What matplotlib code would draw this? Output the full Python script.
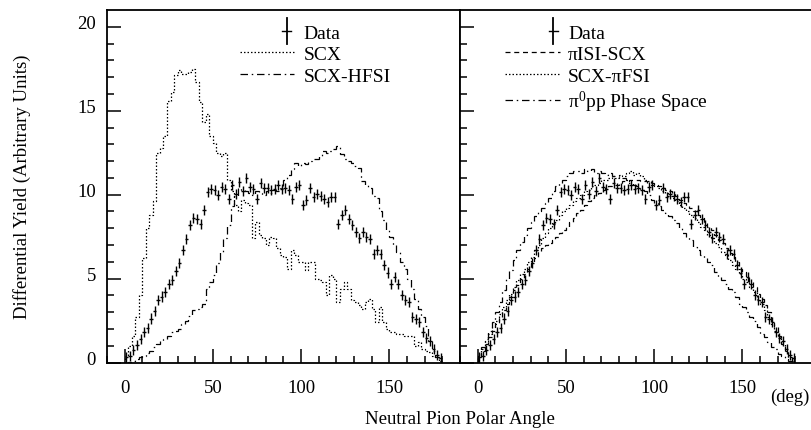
import numpy as np
import matplotlib
matplotlib.use("Agg")
import matplotlib.pyplot as plt
from matplotlib.lines import Line2D
from matplotlib.legend_handler import HandlerBase
from matplotlib.transforms import ScaledTranslation

plt.rcParams['font.family'] = ['Liberation Serif', 'DejaVu Serif']
plt.rcParams['mathtext.fontset'] = 'custom'
plt.rcParams['mathtext.rm'] = 'Liberation Serif'
plt.rcParams['mathtext.it'] = 'Liberation Serif:italic'

# 2 degree bins, 0..180
edges = np.arange(0, 182, 2)
centers = edges[:-1] + 1

# measured yield (same data in both panels)
data = [0.3, 0.4, 0.77, 1.03, 1.41, 1.8, 2.08, 2.62, 3.08, 3.71,
        3.93, 4.2, 4.7, 4.94, 5.46, 5.93, 6.69, 7.38, 8.21, 8.61,
        8.53, 8.27, 9.07, 10.16, 10.36, 10.26, 9.96, 10.46, 10.36, 9.76,
        10.6, 10.06, 10.75, 10.2, 11.0, 10.46, 10.32, 9.76, 10.69, 10.4,
        10.4, 10.26, 10.36, 10.56, 10.36, 10.4, 10.26, 9.76, 10.46, 10.56,
        9.36, 9.66, 10.4, 9.86, 10.06, 9.92, 9.76, 9.56, 9.86, 9.86,
        8.27, 8.77, 9.07, 8.57, 8.17, 7.78, 7.42, 7.78, 7.48, 7.38,
        6.49, 6.69, 6.49, 5.8, 5.36, 4.7, 5.1, 4.7, 4.0, 3.7,
        3.6, 2.72, 2.58, 2.42, 1.83, 1.47, 1.27, 0.83, 0.44, 0.24]
data_err = 0.3

# left panel models
scx = [0.4, 1.0, 1.6, 2.7, 4.0, 6.2, 8.0, 8.8, 9.6, 12.5,
       12.8, 13.5, 15.6, 16.1, 17.1, 17.4, 17.2, 17.2, 17.3, 17.5,
       16.7, 15.5, 14.3, 14.8, 13.5, 13.1, 12.5, 12.3, 12.5, 10.9,
       10.2, 9.4, 9.0, 9.7, 9.5, 9.4, 7.4, 8.4, 7.6, 7.4,
       7.0, 7.5, 7.4, 6.8, 6.4, 6.3, 5.6, 6.7, 6.4, 6.0,
       6.0, 5.5, 6.0, 6.0, 5.0, 4.9, 4.8, 4.0, 5.2, 5.0,
       3.6, 4.4, 4.8, 4.4, 3.7, 3.6, 3.4, 3.2, 3.6, 3.8,
       3.2, 2.4, 3.3, 2.4, 2.0, 1.8, 1.8, 1.7, 1.7, 1.6,
       1.6, 1.6, 1.0, 1.2, 0.8, 0.7, 0.6, 0.4, 0.3, 0.1]
scx_hfsi = [0.0, 0.05, 0.1, 0.2, 0.3, 0.4, 0.55, 0.7, 0.9, 1.1,
            1.3, 1.4, 1.6, 1.8, 1.9, 2.0, 2.3, 2.5, 2.8, 3.1,
            3.2, 3.3, 3.5, 4.4, 4.8, 5.2, 5.9, 6.6, 7.4, 8.2,
            9.3, 9.9, 10.4, 10.3, 10.2, 10.1, 10.0, 10.2, 10.1, 10.0,
            10.2, 10.1, 10.3, 10.2, 10.4, 10.9, 11.2, 11.5, 11.9, 11.7,
            11.9, 11.8, 12.0, 12.1, 12.1, 12.3, 12.6, 12.5, 12.6, 12.7,
            12.9, 12.4, 12.1, 12.0, 11.9, 11.7, 11.6, 10.8, 10.6, 10.4,
            9.9, 9.8, 9.0, 8.5, 7.9, 7.5, 7.0, 6.6, 6.0, 5.6,
            5.0, 4.4, 3.8, 3.2, 2.7, 2.2, 1.3, 0.7, 0.3, 0.1]

# right panel models
pi_isi_scx = [0.3, 0.7, 1.1, 1.5, 1.9, 2.3, 2.7, 3.1, 3.5, 3.9,
              4.3, 4.6, 5.0, 5.3, 5.6, 5.9, 6.2, 6.6, 6.8, 7.0,
              7.1, 7.3, 7.5, 7.7, 7.9, 8.1, 8.4, 8.6, 8.9, 9.1,
              9.4, 9.6, 9.8, 10.0, 10.1, 10.3, 10.4, 10.5, 10.6, 10.6,
              10.7, 10.8, 10.8, 10.9, 10.9, 10.9, 10.8, 10.8, 10.7, 10.7,
              10.6, 10.5, 10.4, 10.3, 10.2, 10.1, 9.9, 9.7, 9.5, 9.4,
              9.2, 9.0, 8.8, 8.6, 8.4, 8.1, 7.9, 7.6, 7.3, 7.1,
              6.8, 6.5, 6.3, 6.0, 5.6, 5.4, 5.1, 4.8, 4.5, 4.1,
              3.8, 3.4, 3.0, 2.5, 2.1, 1.6, 1.1, 0.7, 0.3, 0.1]
scx_pi_fsi = [0.4, 0.8, 1.3, 1.7, 2.1, 2.5, 2.9, 3.3, 3.7, 4.1,
              4.5, 4.9, 5.3, 5.6, 6.0, 6.3, 6.7, 7.0, 7.4, 7.7,
              8.0, 8.3, 8.5, 8.8, 9.0, 9.2, 9.4, 9.6, 9.8, 10.0,
              10.2, 10.3, 10.5, 10.6, 10.7, 10.9, 10.9, 11.0, 11.1, 11.0,
              11.2, 11.1, 11.3, 11.4, 11.2, 11.3, 11.1, 10.9, 10.8, 10.6,
              10.5, 10.4, 10.2, 10.1, 9.9, 9.8, 9.6, 9.4, 9.2, 9.0,
              8.8, 8.6, 8.4, 8.1, 7.9, 7.6, 7.4, 7.1, 6.9, 6.6,
              6.4, 6.1, 5.8, 5.6, 5.3, 5.0, 4.8, 4.5, 4.2, 3.8,
              3.5, 3.1, 2.7, 2.3, 1.9, 1.5, 1.1, 0.7, 0.3, 0.1]
phase_space = [0.4, 0.9, 1.4, 1.9, 2.4, 3.0, 3.6, 4.3, 5.0, 5.5,
               6.1, 6.7, 7.2, 7.6, 8.0, 8.4, 8.7, 9.0, 9.2, 9.5,
               9.8, 10.2, 10.5, 10.7, 10.9, 11.1, 11.3, 11.4, 11.4, 11.3,
               11.5, 11.4, 11.5, 11.3, 11.4, 11.3, 11.2, 11.3, 11.1, 11.1,
               11.0, 11.0, 10.9, 10.7, 10.6, 10.5, 10.3, 10.2, 10.0, 9.7,
               9.5, 9.3, 9.1, 8.9, 8.7, 8.5, 8.3, 8.0, 7.7, 7.5,
               7.3, 6.9, 6.7, 6.4, 6.2, 6.0, 5.8, 5.4, 5.1, 4.9,
               4.7, 4.4, 4.2, 3.9, 3.5, 3.3, 3.0, 2.7, 2.5, 2.1,
               1.7, 1.5, 1.2, 0.9, 0.8, 0.5, 0.4, 0.2, 0.1, 0.05]

DOTTED = (0, (1.2, 1.6))
DASHDOT = (0, (6, 3, 1.2, 3))
DASHED = (0, (4, 3))


class DataMark(HandlerBase):
    # vertical error bar drawn at the right end of the handle, like ROOT
    def create_artists(self, legend, orig_handle, xdescent, ydescent,
                       width, height, fontsize, trans):
        x0 = width - xdescent - 0.35 * fontsize
        yc = 0.5 * height - ydescent
        v = Line2D([x0, x0], [yc - 0.65 * fontsize, yc + 0.65 * fontsize],
                   color='black', lw=1.3, transform=trans)
        h = Line2D([x0 - 0.22 * fontsize, x0 + 0.22 * fontsize], [yc, yc],
                   color='black', lw=1.0, transform=trans)
        return [v, h]


fig = plt.figure(figsize=(8.12, 4.31), dpi=100)
W, H = 812.0, 431.0
y0, y1 = 363.5, 11.0
axL = fig.add_axes([107 / W, (H - y0) / H, 353 / W, (y0 - y1) / H])
axR = fig.add_axes([460 / W, (H - y0) / H, 353 / W, (y0 - y1) / H])

for ax in (axL, axR):
    ax.errorbar(centers, data, xerr=1, yerr=data_err, fmt='none',
                ecolor='black', elinewidth=1.0, capsize=0, zorder=3)
    ax.set_xlim(-10, 190)
    ax.set_ylim(0, 21)
    ax.set_xticks([0, 50, 100, 150])
    ax.set_xticks(np.arange(-10, 190, 10), minor=True)
    ax.set_yticks([0, 5, 10, 15, 20])
    ax.set_yticks(np.arange(0, 21, 1), minor=True)
    ax.tick_params(which='both', direction='in', top=False, right=False,
                   width=1.1, labelsize=13.5)
    ax.tick_params(which='major', length=10)
    ax.tick_params(which='minor', length=5)
    ax.tick_params(axis='x', pad=12)
    ax.tick_params(axis='y', pad=8)
    for s in ax.spines.values():
        s.set_linewidth(1.3)

axR.spines['right'].set_visible(False)
axR.tick_params(axis='y', labelleft=False)

axL.stairs(scx, edges, color='black', lw=0.9, ls=DOTTED, baseline=0)
axL.stairs(scx_hfsi, edges, color='black', lw=0.9, ls=DASHDOT, baseline=0)
axR.stairs(pi_isi_scx, edges, color='black', lw=0.9, ls=DASHED, baseline=0)
axR.stairs(scx_pi_fsi, edges, color='black', lw=0.9, ls=DOTTED, baseline=0)
axR.stairs(phase_space, edges, color='black', lw=0.9, ls=DASHDOT, baseline=0)

# shift y labels up a little as in the original
for lab in axL.get_yticklabels():
    lab.set_transform(lab.get_transform() +
                      ScaledTranslation(0, 0.05, fig.dpi_scale_trans))

data_h = Line2D([], [], color='black')
legL = [data_h,
        Line2D([], [], color='black', lw=0.9, ls=DOTTED),
        Line2D([], [], color='black', lw=0.9, ls=DASHDOT)]
axL.legend(legL, ['Data', 'SCX', 'SCX-HFSI'], loc='upper left',
           bbox_to_anchor=(0.377, 0.96), frameon=False, fontsize=14,
           borderpad=0, borderaxespad=0, handlelength=2.75,
           handletextpad=0.5, labelspacing=0.2,
           handler_map={data_h: DataMark()})

data_h2 = Line2D([], [], color='black')
legR = [data_h2,
        Line2D([], [], color='black', lw=0.9, ls=DASHED),
        Line2D([], [], color='black', lw=0.9, ls=DOTTED),
        Line2D([], [], color='black', lw=0.9, ls=DASHDOT)]
axR.legend(legR, ['Data', 'πISI-SCX', 'SCX-πFSI',
                  r'π$^{\mathrm{0}}$pp Phase Space'],
           loc='upper left', bbox_to_anchor=(0.127, 0.96), frameon=False,
           fontsize=14, borderpad=0, borderaxespad=0, handlelength=2.85,
           handletextpad=0.4, labelspacing=0.2,
           handler_map={data_h2: DataMark()})

fig.text(22 / W, 1 - 187 / H, 'Differential Yield (Arbitrary Units)',
         rotation=90, ha='center', va='center', fontsize=13.5)
fig.text(460 / W, 1 - 420 / H, 'Neutral Pion Polar Angle',
         ha='center', va='center', fontsize=13.5)
fig.text(790 / W, 1 - 397 / H, '(deg)', ha='center', va='center',
         fontsize=13.5)

fig.savefig('out.png', dpi=100)
